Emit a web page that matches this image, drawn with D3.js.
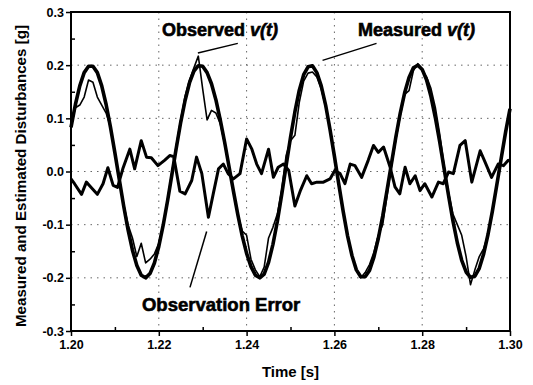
<!DOCTYPE html>
<html><head><meta charset="utf-8">
<script src="https://cdn.jsdelivr.net/npm/d3@7/dist/d3.min.js"></script>
<style>html,body{margin:0;padding:0;background:#fff;} svg{display:block;}</style>
</head><body><svg id="c" width="533" height="385"></svg>
<script>
// sample times [s] for measured / observed signals
const sampleTime = [1.200,1.201,1.202,1.203,1.204,1.205,1.206,1.207,1.208,1.209,
1.210,1.211,1.212,1.213,1.214,1.215,1.216,1.217,1.218,1.219,
1.220,1.221,1.222,1.223,1.224,1.225,1.226,1.227,1.228,1.229,
1.230,1.231,1.232,1.233,1.234,1.235,1.236,1.237,1.238,1.239,
1.240,1.241,1.242,1.243,1.244,1.245,1.246,1.247,1.248,1.249,
1.250,1.251,1.252,1.253,1.254,1.255,1.256,1.257,1.258,1.259,
1.260,1.261,1.262,1.263,1.264,1.265,1.266,1.267,1.268,1.269,
1.270,1.271,1.272,1.273,1.274,1.275,1.276,1.277,1.278,1.279,
1.280,1.281,1.282,1.283,1.284,1.285,1.286,1.287,1.288,1.289,
1.290,1.291,1.292,1.293,1.294,1.295,1.296,1.297,1.298,1.299,1.300];

// Measured v(t) [g]
const measured = [0.083,0.126,0.161,0.186,0.198,0.198,0.186,0.161,0.126,0.083,
0.035,-0.015,-0.065,-0.110,-0.148,-0.177,-0.195,-0.200,-0.192,-0.172,
-0.141,-0.101,-0.055,-0.005,0.045,0.093,0.134,0.167,0.189,0.199,
0.198,0.186,0.165,0.135,0.097,0.055,0.009,-0.037,-0.081,-0.121,
-0.154,-0.179,-0.195,-0.200,-0.193,-0.171,-0.137,-0.094,-0.043,0.011,
0.064,0.112,0.153,0.182,0.197,0.199,0.186,0.161,0.125,0.079,
0.029,-0.024,-0.075,-0.121,-0.158,-0.185,-0.198,-0.198,-0.186,-0.161,
-0.126,-0.084,-0.035,0.015,0.065,0.110,0.148,0.177,0.195,0.200,
0.192,0.172,0.141,0.101,0.055,0.005,-0.045,-0.093,-0.134,-0.167,
-0.189,-0.199,-0.197,-0.182,-0.155,-0.118,-0.074,-0.025,0.025,0.074,0.118];

// Observed v(t) [g]
const observed = [0.090,0.120,0.125,0.140,0.172,0.168,0.140,0.125,0.110,0.083,
0.035,-0.015,-0.062,-0.100,-0.125,-0.160,-0.135,-0.172,-0.165,-0.155,
-0.135,-0.100,-0.052,0.000,0.050,0.098,0.142,0.172,0.195,0.217,
0.155,0.097,0.115,0.110,0.090,0.052,0.008,-0.037,-0.081,-0.112,
-0.120,-0.165,-0.185,-0.198,-0.180,-0.125,-0.105,-0.080,-0.035,0.030,
0.058,0.068,0.130,0.170,0.185,0.187,0.178,0.155,0.122,0.079,
0.029,-0.024,-0.075,-0.121,-0.158,-0.185,-0.200,-0.190,-0.175,-0.152,
-0.120,-0.100,-0.045,0.010,0.060,0.105,0.145,0.152,0.190,0.203,
0.190,0.178,0.156,0.120,0.070,0.010,-0.040,-0.080,-0.100,-0.120,
-0.160,-0.213,-0.185,-0.160,-0.145,-0.118,-0.074,-0.025,0.025,0.074,0.118];

// Observation Error [g]
const errTime = [1.2000,1.2008,1.2024,1.2035,1.2046,1.2060,1.2073,1.2084,1.2096,1.2106,
1.2118,1.2134,1.2145,1.2160,1.2172,1.2183,1.2198,1.2213,1.2225,1.2234,
1.2248,1.2260,1.2275,1.2286,1.2298,1.2313,1.2324,1.2336,1.2347,1.2358,
1.2370,1.2385,1.2400,1.2412,1.2423,1.2434,1.2450,1.2461,1.2472,1.2484,
1.2496,1.2510,1.2523,1.2537,1.2548,1.2560,1.2575,1.2590,1.2601,1.2613,
1.2624,1.2636,1.2647,1.2662,1.2677,1.2689,1.2700,1.2712,1.2727,1.2738,
1.2749,1.2761,1.2772,1.2784,1.2795,1.2806,1.2822,1.2837,1.2848,1.2860,
1.2871,1.2886,1.2898,1.2913,1.2932,1.2943,1.2958,1.2973,1.2985,1.2996,1.3000];
const errValue = [-0.014,-0.023,-0.043,-0.020,-0.030,-0.043,-0.023,0.007,-0.026,-0.030,
0.005,0.042,0.005,0.058,0.027,0.026,0.011,0.021,0.030,0.028,
-0.037,-0.042,-0.017,0.027,-0.004,-0.086,-0.042,0.005,0.014,-0.004,
-0.014,-0.004,0.061,0.042,0.014,-0.004,0.042,-0.011,0.008,0.014,
0.002,-0.065,-0.035,-0.008,-0.023,-0.020,-0.020,-0.014,0.002,-0.004,
-0.023,0.014,0.011,-0.011,0.021,0.049,0.036,0.046,0.008,-0.029,
-0.042,0.008,-0.023,-0.008,-0.036,-0.023,-0.048,-0.020,-0.023,-0.001,
-0.004,0.049,0.058,-0.020,0.039,0.018,-0.011,0.014,0.011,0.021,0.020];

const xTicks = [1.20,1.22,1.24,1.26,1.28,1.30];
const xMinor = [1.21,1.23,1.25,1.27,1.29];
const yTicks = [-0.3,-0.2,-0.1,0.0,0.1,0.2,0.3];
const yMinor = [-0.25,-0.15,-0.05,0.05,0.15,0.25];
const xTitle = "Time [s]";
const yTitle = "Measured and Estimated Disturbances [g]";
const labelObserved = ["Observed ", "v(t)"];
const labelMeasured = ["Measured ", "v(t)"];
const labelError = "Observation Error";
// arrow endpoints in data units: [t1, v1, t2, v2]
const arrowObserved = [1.2380, 0.241, 1.2289, 0.223];
const arrowMeasured = [1.2696, 0.241, 1.2573, 0.209];
const arrowError = [1.2271, -0.218, 1.2309, -0.113];

const FONT = "'Liberation Sans', Arial, Helvetica, sans-serif";
const svg = d3.select("#c");
const L = 71, R = 510, T = 12, B = 331;
const x = d3.scaleLinear().domain([1.2, 1.3]).range([L, R]);
const y = d3.scaleLinear().domain([-0.3, 0.3]).range([B, T]);

svg.append("rect").attr("width", 533).attr("height", 385).attr("fill", "#fff");

// grid
const grid = svg.append("g").attr("stroke", "#666").attr("stroke-width", 1).attr("stroke-dasharray", "1.5,5");
xTicks.slice(1, -1).forEach(d => grid.append("line").attr("x1", x(d)).attr("x2", x(d)).attr("y1", T).attr("y2", B));
yTicks.slice(1, -1).forEach(d => grid.append("line").attr("y1", y(d)).attr("y2", y(d)).attr("x1", L).attr("x2", R));

// axes
const fmtY = d => d.toFixed(1);
const xAxis = svg.append("g").attr("transform", `translate(0,${B})`)
  .call(d3.axisBottom(x).tickValues(xTicks).tickFormat(d => d.toFixed(2)).tickSize(5).tickPadding(4));
const xAxisMinor = svg.append("g").attr("transform", `translate(0,${B})`)
  .call(d3.axisBottom(x).tickValues(xMinor).tickFormat("").tickSize(-4));
const yAxis = svg.append("g").attr("transform", `translate(${L},0)`)
  .call(d3.axisLeft(y).tickValues(yTicks).tickFormat(fmtY).tickSize(5).tickPadding(2));
const yAxisMinor = svg.append("g").attr("transform", `translate(${L},0)`)
  .call(d3.axisLeft(y).tickValues(yMinor).tickFormat("").tickSize(-4));
[xAxis, xAxisMinor, yAxis, yAxisMinor].forEach(g => {
  g.select(".domain").remove();
  g.selectAll(".tick line").attr("stroke", "#000").attr("stroke-width", 1.5);
  g.selectAll("text").attr("font-family", FONT).attr("font-size", 12.5).attr("font-weight", "bold").attr("fill", "#000");
});

// series
const lineM = d3.line().x((d, i) => x(sampleTime[i])).y(d => y(d));
const lineE = d3.line().x((d, i) => x(errTime[i])).y(d => y(d));
svg.append("path").datum(errValue).attr("d", lineE).attr("fill", "none")
  .attr("stroke", "#000").attr("stroke-width", 3).attr("stroke-linejoin", "round");
svg.append("path").datum(measured).attr("d", lineM).attr("fill", "none")
  .attr("stroke", "#000").attr("stroke-width", 3.6).attr("stroke-linejoin", "round");
svg.append("path").datum(observed).attr("d", lineM).attr("fill", "none")
  .attr("stroke", "#000").attr("stroke-width", 1.6).attr("stroke-linejoin", "round");

// frame
svg.append("rect").attr("x", L).attr("y", T).attr("width", R - L).attr("height", B - T)
  .attr("fill", "none").attr("stroke", "#000").attr("stroke-width", 2);

// titles
svg.append("text").attr("x", (L + R) / 2).attr("y", 377).attr("text-anchor", "middle")
  .attr("font-family", FONT).attr("font-size", 15).attr("font-weight", "bold").text(xTitle);
svg.append("text").attr("transform", `translate(26,${(25 + 327) / 2}) rotate(-90)`).attr("text-anchor", "middle")
  .attr("font-family", FONT).attr("font-size", 15).attr("font-weight", "bold")
  .attr("textLength", 302).attr("lengthAdjust", "spacingAndGlyphs").text(yTitle);

// annotations
function label(parts, t, v, size) {
  const tx = svg.append("text").attr("x", x(t)).attr("y", y(v))
    .attr("font-family", FONT).attr("font-size", size).attr("font-weight", "bold")
    .attr("stroke", "#000").attr("stroke-width", 0.6);
  tx.append("tspan").text(parts[0]);
  if (parts[1]) tx.append("tspan").attr("font-style", "italic").text(parts[1]);
}
label(labelObserved, 1.22074, 0.2545, 18);
label(labelMeasured, 1.26537, 0.2545, 18);
label([labelError], 1.21617, -0.262, 18.5);
[arrowObserved, arrowMeasured, arrowError].forEach(a => {
  svg.append("line").attr("x1", x(a[0])).attr("y1", y(a[1])).attr("x2", x(a[2])).attr("y2", y(a[3]))
    .attr("stroke", "#000").attr("stroke-width", 1.5);
});
</script></body></html>
